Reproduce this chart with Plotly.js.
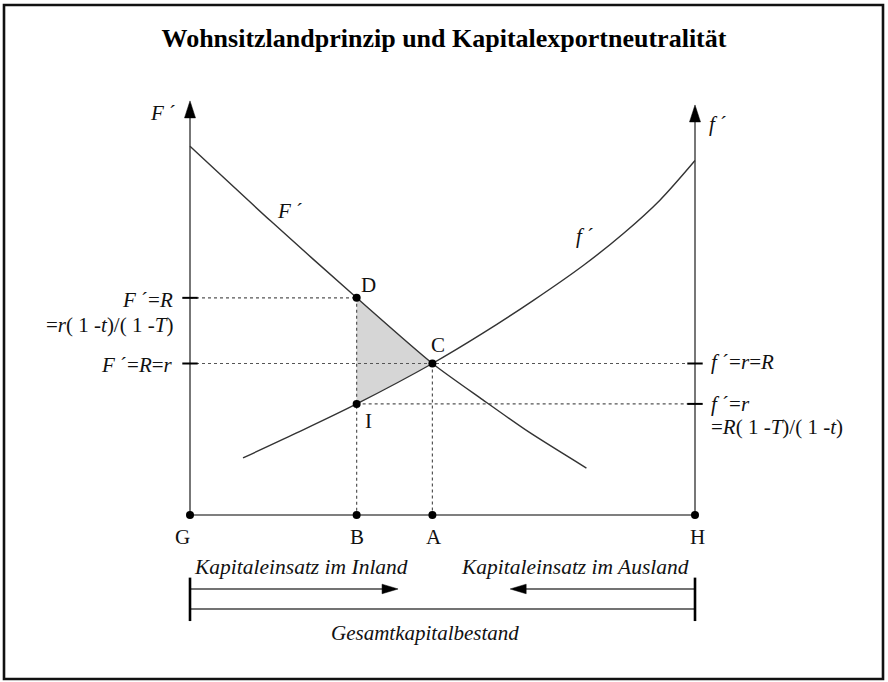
<!DOCTYPE html>
<html>
<head>
<meta charset="utf-8">
<script src="https://cdn.plot.ly/plotly-3.0.1.min.js"></script>
<style>html,body{margin:0;padding:0;background:#fff;}#chart{width:888px;height:682px;}</style>
</head>
<body>
<div id="chart"></div>
<script>
// ---------- data ----------
const chartTitle = 'Wohnsitzlandprinzip und Kapitalexportneutralität';
// capital stock axis: G (origin home), B, A, H (origin abroad)
const capitalNames = ['G', 'B', 'A', 'H'];
const capitalX = [0, 33, 48, 100];
// marginal productivity at home F´ (measured from G)
const FprimeX = [0, 16, 33, 48, 58, 67, 78.5];
const FprimeY = [73, 58.2, 43, 30, 22.8, 16.5, 9.3];
// marginal productivity abroad f´ (measured from H)
const fprimeX = [10.5, 21, 33, 48, 58, 68, 78, 86, 93, 100];
const fprimeY = [11.3, 16.2, 22, 30, 36, 42.5, 49.5, 55.9, 62.3, 70.2];
// named points
const pointNames = ['D', 'C', 'I'];
const pointX = [33, 48, 33];
const pointY = [43, 30, 22];
// axis heights
const axisTop = [82, 81.2];
// level labels
const leftLevelY = [43, 30];
const leftLevelText = ['<i>F</i> ´=<i>R</i>', '<i>F</i> ´=<i>R</i>=<i>r</i>'];
const leftLevelSub = '=<i>r</i>( 1 -<i>t</i>)/( 1 -<i>T</i>)';
const rightLevelY = [30, 22];
const rightLevelText = ['<i>f</i> ´=<i>r</i>=<i>R</i>', '<i>f</i> ´=<i>r</i>'];
const rightLevelSub = '=<i>R</i>( 1 -<i>T</i>)/( 1 -<i>t</i>)';
const bottomTexts = ['Kapitaleinsatz im Inland', 'Kapitaleinsatz im Ausland', 'Gesamtkapitalbestand'];
const arrowTipX = [41.2, 63.4];

// ---------- geometry helpers ----------
const PX = 5.05;             // pixels per data unit (both axes)
const X0 = 190, Y0 = 515;    // pixel position of G
const xr = [(0 - X0) / PX, (888 - X0) / PX];
const yr = [(Y0 - 682) / PX, (Y0 - 0) / PX];
const yArrow = -14.65, yTotal = -18.6, yBarTop = -12.4, yBarBot = -21;

const FONT = 'Liberation Serif, Times New Roman, serif';
const ink = '#111';
const traces = [];

function line(xs, ys, opts) {
  traces.push(Object.assign({type: 'scatter', mode: 'lines', x: xs, y: ys, hoverinfo: 'skip', showlegend: false,
    line: {color: '#444', width: 1.3}}, opts || {}));
}
function head(tx, ty, dx, dy, len, half) {
  const L = len / PX, H = half / PX;
  const bx = tx - dx * L, by = ty - dy * L;
  const px = -dy, py = dx;
  traces.push({type: 'scatter', mode: 'lines', fill: 'toself', fillcolor: '#000', hoverinfo: 'skip', showlegend: false,
    line: {color: '#000', width: 0.5},
    x: [tx, bx + px * H, bx - px * H, tx], y: [ty, by + py * H, by - py * H, ty]});
}

// shaded triangle D-C-I
traces.push({type: 'scatter', mode: 'lines', x: [pointX[0], pointX[1], pointX[2], pointX[0]], y: [pointY[0], pointY[1], pointY[2], pointY[0]],
  fill: 'toself', fillcolor: '#d6d6d6', line: {width: 0}, hoverinfo: 'skip', showlegend: false});

// dotted guide lines
const dotted = {line: {color: '#555', width: 1.2, dash: 'dot'}};
line([0, pointX[0]], [pointY[0], pointY[0]], dotted);
line([0, 100], [pointY[1], pointY[1]], dotted);
line([pointX[2], 100], [pointY[2], pointY[2]], dotted);
line([capitalX[1], capitalX[1]], [pointY[0], 0], dotted);
line([capitalX[2], capitalX[2]], [pointY[1], 0], dotted);

// axes
const axisStyle = {line: {color: '#555', width: 1.6}};
line([0, 0], [0, axisTop[0] - 2], axisStyle);
line([100, 100], [0, axisTop[1] - 2], axisStyle);
line([0, 100], [0, 0], axisStyle);
head(0, axisTop[0], 0, 1, 17, 5.5);
head(100, axisTop[1], 0, 1, 17, 5.5);

// curves
traces.push({type: 'scatter', mode: 'lines', x: FprimeX, y: FprimeY, line: {color: '#333', width: 1.4, shape: 'spline', smoothing: 0.7}, hoverinfo: 'skip', showlegend: false});
traces.push({type: 'scatter', mode: 'lines', x: fprimeX, y: fprimeY, line: {color: '#333', width: 1.4, shape: 'spline', smoothing: 0.9}, hoverinfo: 'skip', showlegend: false});

// tick marks on vertical axes
traces.push({type: 'scatter', mode: 'markers', x: [0, 0, 100, 100], y: leftLevelY.concat(rightLevelY),
  marker: {symbol: 'line-ew', size: 11, line: {color: '#000', width: 2}}, hoverinfo: 'skip', showlegend: false});
// points D C I
traces.push({type: 'scatter', mode: 'markers', x: pointX, y: pointY, marker: {color: '#000', size: 8}, hoverinfo: 'skip', showlegend: false});
// points on capital axis
traces.push({type: 'scatter', mode: 'markers', x: capitalX, y: capitalX.map(() => 0), marker: {color: '#000', size: 8}, hoverinfo: 'skip', showlegend: false});

// bottom arrows and total stock bar
const thin = {line: {color: '#444', width: 1.4}};
line([0, arrowTipX[0] - 2], [yArrow, yArrow], thin);
head(arrowTipX[0], yArrow, 1, 0, 16, 4.8);
line([100, arrowTipX[1] + 2], [yArrow, yArrow], thin);
head(arrowTipX[1], yArrow, -1, 0, 16, 4.8);
line([0, 100], [yTotal, yTotal], thin);
const bar = {line: {color: '#000', width: 2.6}};
line([0, 0], [yBarTop, yBarBot], bar);
line([100, 100], [yBarTop, yBarBot], bar);

// ---------- annotations ----------
const ann = [];
function txt(x, y, t, size, xa, extra) {
  ann.push(Object.assign({xref: 'x', yref: 'y', x: x, y: y, text: t, showarrow: false, xanchor: xa || 'center', yanchor: 'middle',
    font: {family: FONT, size: size, color: ink}}, extra || {}));
}
const LS = 21;
// axis labels
txt(-5.3, 79.6, '<i>F</i> ´', LS);
txt(104.6, 77.4, '<i>f</i> ´', LS);
// curve labels
txt(19.8, 60.2, '<i>F</i> ´', LS);
txt(78.3, 55.2, '<i>f</i> ´', LS);
// point labels
const ptDx = [2.4, 1.2, 2.4], ptDy = [2.6, 3.6, -3.4];
pointNames.forEach((n, i) => txt(pointX[i] + ptDx[i], pointY[i] + ptDy[i], n, LS));
// capital labels
const capDx = [-1.4, 0, 0.3, 0.4];
capitalNames.forEach((n, i) => txt(capitalX[i] + capDx[i], -4.4, n, LS));
// level labels left
txt(-3.0, leftLevelY[0] - 0.5, leftLevelText[0], LS, 'right');
txt(-3.0, leftLevelY[0] - 5.3, leftLevelSub, LS, 'right');
txt(-3.0, leftLevelY[1] - 0.3, leftLevelText[1], LS, 'right');
// level labels right
txt(102.7, rightLevelY[0] + 0.2, rightLevelText[0], LS, 'left');
txt(102.7, rightLevelY[1] - 0.1, rightLevelText[1], LS, 'left');
txt(102.7, rightLevelY[1] - 4.5, rightLevelSub, LS, 'left');
// bottom texts
txt(0.3, -10.3, '<i>' + bottomTexts[0] + '</i>', 21.5, 'left');
txt(99.3, -10.3, '<i>' + bottomTexts[1] + '</i>', 21.5, 'right');
txt(46.5, -23.4, '<i>' + bottomTexts[2] + '</i>', 21);

const layout = {
  width: 888, height: 682,
  margin: {l: 0, r: 0, t: 0, b: 0},
  paper_bgcolor: '#fff', plot_bgcolor: '#fff',
  title: {text: '<b>' + chartTitle + '</b>', x: 0.5, xanchor: 'center', y: 1 - 38 / 682, yanchor: 'middle',
    font: {family: FONT, size: 26, color: '#000'}},
  xaxis: {range: xr, visible: false, fixedrange: true},
  yaxis: {range: yr, visible: false, fixedrange: true},
  showlegend: false,
  annotations: ann,
  shapes: [{type: 'rect', xref: 'paper', yref: 'paper', x0: 4 / 888, x1: 883 / 888, y0: 1 - 679 / 682, y1: 1 - 5 / 682,
    line: {color: '#111', width: 2.6}}]
};
Plotly.newPlot('chart', traces, layout, {displayModeBar: false, staticPlot: true});
</script>
</body>
</html>
